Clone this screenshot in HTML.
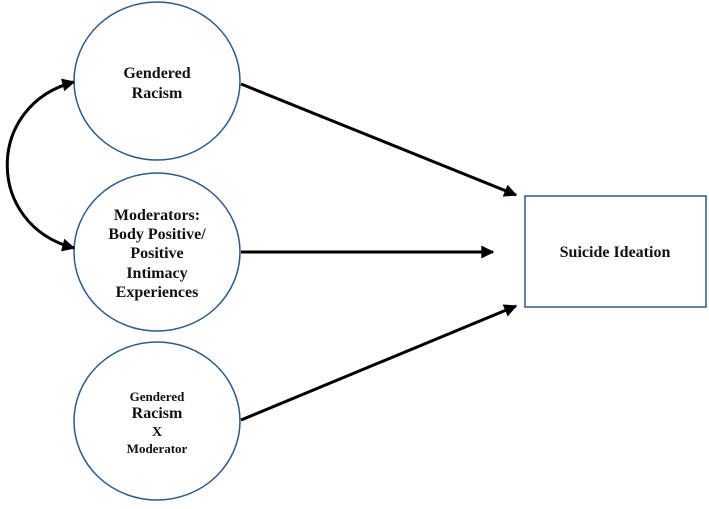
<!DOCTYPE html>
<html><head><style>
html,body{margin:0;padding:0;background:#fff;}
svg text{font-family:"Liberation Serif",serif;font-weight:bold;fill:#111;text-anchor:middle;}
</style></head><body>
<svg width="709" height="504" viewBox="0 0 709 504" xmlns="http://www.w3.org/2000/svg">
<defs>
<marker id="b" viewBox="0 0 10 10" markerWidth="17" markerHeight="13" refX="9" refY="5" orient="auto-start-reverse" markerUnits="userSpaceOnUse"><path d="M0,0 L10,5 L0,10 Z" fill="#000"/></marker>
</defs>
<ellipse cx="157" cy="81" rx="83" ry="79" fill="none" stroke="#2b5a8a" stroke-width="1.5"/>
<ellipse cx="157" cy="252" rx="83" ry="79" fill="none" stroke="#2b5a8a" stroke-width="1.5"/>
<ellipse cx="157" cy="421" rx="83" ry="79" fill="none" stroke="#2b5a8a" stroke-width="1.5"/>
<rect x="525" y="196" width="181" height="111" fill="none" stroke="#2b5a8a" stroke-width="1.5"/>
<text x="157" y="78" font-size="16">Gendered</text>
<text x="157" y="98" font-size="16">Racism</text>
<text x="157" y="220" font-size="16">Moderators:</text>
<text x="157" y="239" font-size="16">Body Positive/</text>
<text x="157" y="258" font-size="16">Positive</text>
<text x="157" y="278" font-size="16">Intimacy</text>
<text x="157" y="297" font-size="16">Experiences</text>
<text x="157" y="401" font-size="13">Gendered</text>
<text x="157" y="418" font-size="16">Racism</text>
<text x="157" y="436" font-size="14">X</text>
<text x="157" y="453" font-size="13">Moderator</text>
<text x="615" y="257" font-size="16">Suicide Ideation</text>
<path d="M241,84 L516,195" stroke="#000" stroke-width="3" fill="none" marker-end="url(#b)"/>
<path d="M241,252 L493,252" stroke="#000" stroke-width="3" fill="none" marker-end="url(#b)"/>
<path d="M241,420 L516,306" stroke="#000" stroke-width="3" fill="none" marker-end="url(#b)"/>
<path d="M74,82 C-15,105 -15,225 74,248" stroke="#000" stroke-width="3" fill="none" marker-start="url(#b)" marker-end="url(#b)"/>
</svg>
</body></html>
